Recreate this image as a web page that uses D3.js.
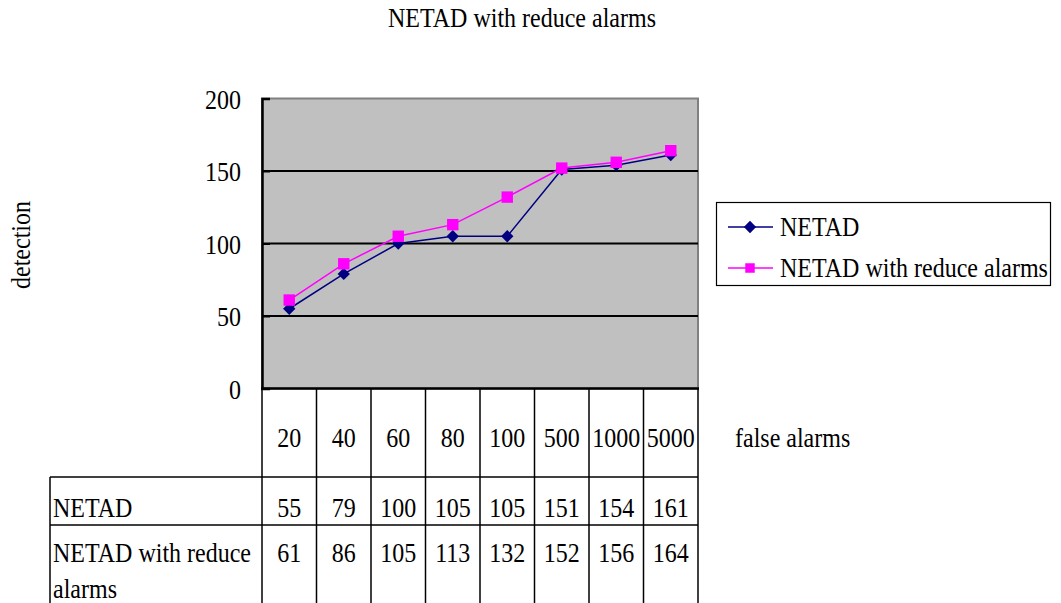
<!DOCTYPE html>
<html>
<head>
<meta charset="utf-8">
<script src="https://cdn.jsdelivr.net/npm/d3@7"></script>
<style>
  html, body { margin: 0; padding: 0; background: #fff; }
  svg { display: block; }
</style>
</head>
<body>
<svg id="chart" width="1061" height="603"></svg>
<script>
// Data
const categories = ["20", "40", "60", "80", "100", "500", "1000", "5000"];
const netad = [55, 79, 100, 105, 105, 151, 154, 161];
const netadReduce = [61, 86, 105, 113, 132, 152, 156, 164];
const seriesNames = ["NETAD", "NETAD with reduce alarms"];
const yTicks = [0, 50, 100, 150, 200];

const svg = d3.select("#chart");
const fontSize = 24;
const fontFamily = '"Liberation Serif"';
const stretch = 1.15;   // slightly tall, narrow lettering

// Plot geometry
const plot = { left: 262, right: 698, top: 98.5, bottom: 388.5 };
const x = d3.scaleBand().domain(categories).range([plot.left, plot.right]).padding(0);
const y = d3.scaleLinear().domain([0, 200]).range([plot.bottom, plot.top]);

function label(g, xx, yy, txt, anchor, rot) {
  return g.append("text")
    .attr("transform", `translate(${xx},${yy})${rot ? ` rotate(${rot})` : ""} scale(1,${stretch})`)
    .attr("text-anchor", anchor || "start")
    .attr("font-family", fontFamily)
    .attr("font-size", fontSize)
    .attr("fill", "#000")
    .text(txt);
}

// Title
label(svg, 522, 27, "NETAD with reduce alarms", "middle");

// Plot background
svg.append("rect")
  .attr("x", plot.left).attr("y", plot.top)
  .attr("width", plot.right - plot.left).attr("height", plot.bottom - plot.top)
  .attr("fill", "#c0c0c0")
  .attr("stroke", "#808080").attr("stroke-width", 2);

// Gridlines
svg.append("g").selectAll("line")
  .data(yTicks.filter(d => d > 0 && d < 200))
  .join("line")
  .attr("x1", plot.left).attr("x2", plot.right)
  .attr("y1", d => y(d)).attr("y2", d => y(d))
  .attr("stroke", "#000").attr("stroke-width", 2);

// Y axis with inward ticks
const yAxis = d3.axisRight(y).tickValues(yTicks).tickSize(8).tickFormat("");
const yg = svg.append("g").attr("transform", `translate(${plot.left},0)`).call(yAxis);
yg.select(".domain").attr("stroke", "#000").attr("stroke-width", 2.5);
yg.selectAll(".tick line").attr("stroke", "#000").attr("stroke-width", 2);

// Y tick labels
const ylg = svg.append("g");
yTicks.forEach(t => label(ylg, 241, y(t) + 10, t, "end"));

// Bottom axis line
svg.append("line")
  .attr("x1", plot.left - 1).attr("x2", plot.right + 1)
  .attr("y1", plot.bottom).attr("y2", plot.bottom)
  .attr("stroke", "#000").attr("stroke-width", 2.5);

// Y axis title
label(svg, 30, 245, "detection", "middle", -90);

// Series lines and markers
const cx = d => x(d) + x.bandwidth() / 2;
const line = d3.line().x((d, i) => cx(categories[i])).y(d => y(d));

svg.append("path").datum(netad)
  .attr("d", line).attr("fill", "none")
  .attr("stroke", "#000080").attr("stroke-width", 1.5);
svg.append("path").datum(netadReduce)
  .attr("d", line).attr("fill", "none")
  .attr("stroke", "#ff00ff").attr("stroke-width", 1.5);

const diamondShape = d3.symbol().type(d3.symbolSquare).size(76);
const squareShape = d3.symbol().type(d3.symbolSquare).size(130);

svg.append("g").selectAll("path")
  .data(netad).join("path")
  .attr("transform", (d, i) => `translate(${cx(categories[i])},${y(d)}) rotate(45)`)
  .attr("d", diamondShape)
  .attr("fill", "#000080");

svg.append("g").selectAll("path")
  .data(netadReduce).join("path")
  .attr("transform", (d, i) => `translate(${cx(categories[i])},${y(d)})`)
  .attr("d", squareShape)
  .attr("fill", "#ff00ff");

// Data table grid
const table = { left: 50, headerBottom: 477, row1Bottom: 525, bottom: 603 };
const tg = svg.append("g").attr("stroke", "#000").attr("stroke-width", 1.5);
const colEdges = categories.map(c => x(c)).concat([plot.right]);
tg.selectAll("line.col")
  .data(colEdges).join("line")
  .attr("class", "col")
  .attr("x1", d => d).attr("x2", d => d)
  .attr("y1", plot.bottom).attr("y2", table.bottom);
tg.append("line")
  .attr("x1", table.left).attr("x2", table.left)
  .attr("y1", table.headerBottom).attr("y2", table.bottom);
[table.headerBottom, table.row1Bottom].forEach(yy => {
  tg.append("line")
    .attr("x1", table.left).attr("x2", plot.right)
    .attr("y1", yy).attr("y2", yy);
});

// Category labels and axis title
const cg = svg.append("g");
categories.forEach(c => label(cg, cx(c), 447, c, "middle"));
label(svg, 735, 447, "false alarms");

// Table rows
const rg = svg.append("g");
label(rg, 53, 517, seriesNames[0]);
label(rg, 53, 562, "NETAD with reduce");
label(rg, 53, 598, "alarms");
netad.forEach((v, i) => label(rg, cx(categories[i]), 517, v, "middle"));
netadReduce.forEach((v, i) => label(rg, cx(categories[i]), 562, v, "middle"));

// Legend
const lg = svg.append("g");
lg.append("rect")
  .attr("x", 716.5).attr("y", 202.5).attr("width", 334).attr("height", 83)
  .attr("fill", "#fff").attr("stroke", "#000").attr("stroke-width", 1.2);
const legendItems = [
  { name: seriesNames[0], color: "#000080", shape: diamondShape, rot: 45, y: 227 },
  { name: seriesNames[1], color: "#ff00ff", shape: d3.symbol().type(d3.symbolSquare).size(90), rot: 0, y: 268 }
];
legendItems.forEach(it => {
  lg.append("line")
    .attr("x1", 728).attr("x2", 773)
    .attr("y1", it.y).attr("y2", it.y)
    .attr("stroke", it.color).attr("stroke-width", 1.5);
  lg.append("path")
    .attr("transform", `translate(750,${it.y}) rotate(${it.rot})`)
    .attr("d", it.shape)
    .attr("fill", it.color);
  label(lg, 780, it.y + 9, it.name);
});
</script>
</body>
</html>
